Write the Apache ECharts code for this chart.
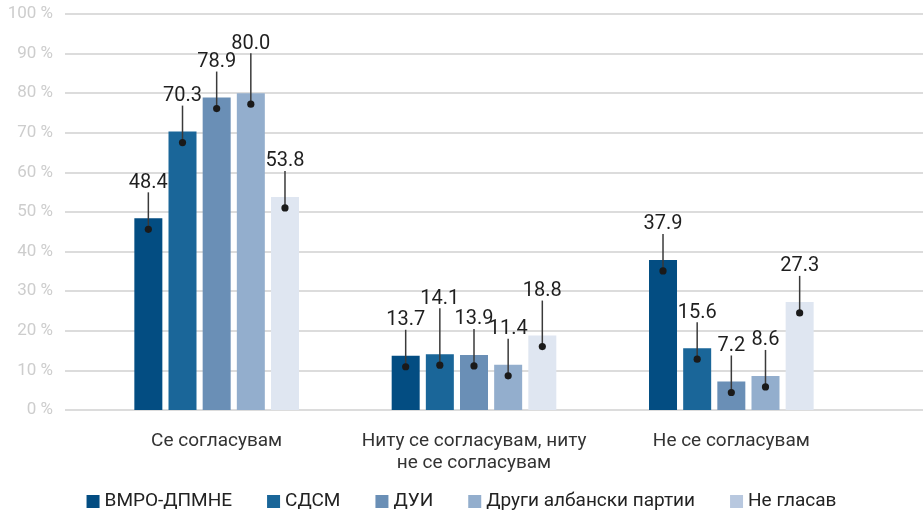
<!DOCTYPE html>
<html>
<head>
<meta charset="utf-8">
<script src="https://cdn.jsdelivr.net/npm/echarts@6/dist/echarts.min.js"></script>
<style>
  html, body { margin: 0; padding: 0; background: #fff; }
  #chart { width: 923px; height: 514px; }
</style>
</head>
<body>
<div id="chart"></div>
<script>
  // Data
  const categories = ['Се согласувам', 'Ниту се согласувам, ниту\nне се согласувам', 'Не се согласувам']
  const parties = ['ВМРО-ДПМНЕ', 'СДСМ', 'ДУИ', 'Други албански партии', 'Не гласав']
  const vmro = [48.4, 13.7, 37.9]
  const sdsm = [70.3, 14.1, 15.6]
  const dui = [78.9, 13.9, 7.2]
  const otherAlb = [80.0, 11.4, 8.6]
  const noVote = [53.8, 18.8, 27.3]
  const seriesValues = [vmro, sdsm, dui, otherAlb, noVote]

  // Style
  const colors = ['#034d82', '#1a6699', '#6a8fb6', '#93aecd', '#dfe6f1']
  const legendColors = ['#034d82', '#1a6699', '#6a8fb6', '#93aecd', '#b8c8df']
  const FONT = 'Roboto'
  const BAR_W = 28
  const BAR_GAP = '22%'
  const DOT_DROP = 11
  // label distance above bar top, a few are lifted to avoid overlaps
  const baseLift = 26
  const liftOverride = { '0-3': 40, '1-1': 46, '1-4': 35 }
  const liftOf = (cat, s) => liftOverride[cat + '-' + s] ?? baseLift

  const chart = echarts.init(document.getElementById('chart'))

  const barSeries = parties.map((name, s) => ({
    name,
    type: 'bar',
    xAxisIndex: 1,
    yAxisIndex: 1,
    barWidth: BAR_W,
    barGap: BAR_GAP,
    itemStyle: { color: colors[s] },
    label: {
      show: true,
      position: 'top',
      fontFamily: FONT,
      fontSize: 20,
      lineHeight: 19,
      color: '#1f1f1f',
      formatter: (p) => Number(p.value).toFixed(1)
    },
    data: seriesValues[s].map((v, c) => ({ value: v, label: { distance: liftOf(c, s) } }))
  }))

  // leader lines with dots
  const leaderData = []
  seriesValues.forEach((vals, s) => vals.forEach((v, c) => leaderData.push([c, v, s])))

  const leaderSeries = {
    name: 'leaders',
    type: 'custom',
    xAxisIndex: 1,
    yAxisIndex: 1,
    silent: true,
    z: 5,
    data: leaderData,
    renderItem: (params, api) => {
      const cat = api.value(0)
      const val = api.value(1)
      const s = api.value(2)
      const lay = api.barLayout({ barWidth: BAR_W, barGap: BAR_GAP, count: parties.length })[s]
      const top = api.coord([cat, val])
      const x = top[0] + lay.offsetCenter
      const lift = liftOf(cat, s)
      return {
        type: 'group',
        children: [
          {
            type: 'line',
            shape: { x1: x, y1: top[1] - lift, x2: x, y2: top[1] + DOT_DROP },
            style: { stroke: '#3a3a3a', lineWidth: 1.5 }
          },
          {
            type: 'circle',
            shape: { cx: x, cy: top[1] + DOT_DROP, r: 3.6 },
            style: { fill: '#1a1a1a' }
          }
        ]
      }
    }
  }

  const option = {
    backgroundColor: '#fff',
    animation: false,
    textStyle: { fontFamily: FONT },
    legend: {
      data: parties.map((name, i) => ({ name, itemStyle: { color: legendColors[i] } })),
      bottom: -2,
      left: 'center',
      icon: 'rect',
      itemWidth: 13,
      itemHeight: 13,
      itemGap: 35,
      textStyle: { fontFamily: FONT, fontSize: 19, color: '#222' }
    },
    grid: [
      { left: 65, right: 0, top: 14, bottom: 104 },
      { left: 88, right: 63, top: 14, bottom: 104 }
    ],
    xAxis: [
      { type: 'value', gridIndex: 0, show: false, min: 0, max: 1 },
      {
        type: 'category',
        gridIndex: 1,
        data: categories,
        axisLine: { show: false },
        axisTick: { show: false },
        axisLabel: {
          fontFamily: FONT,
          fontSize: 19,
          lineHeight: 22,
          color: '#333',
          margin: 20,
          interval: 0
        }
      }
    ],
    yAxis: [
      {
        type: 'value',
        gridIndex: 0,
        min: 0,
        max: 100,
        interval: 10,
        axisLine: { show: false },
        axisTick: { show: false },
        axisLabel: {
          formatter: '{value} %',
          fontFamily: FONT,
          fontSize: 17,
          color: '#cdcdcd',
          margin: 12
        },
        splitLine: { lineStyle: { color: '#dcdcdc', width: 2 } }
      },
      { type: 'value', gridIndex: 1, min: 0, max: 100, show: false }
    ],
    series: [...barSeries, leaderSeries]
  }

  chart.setOption(option)
</script>
</body>
</html>
